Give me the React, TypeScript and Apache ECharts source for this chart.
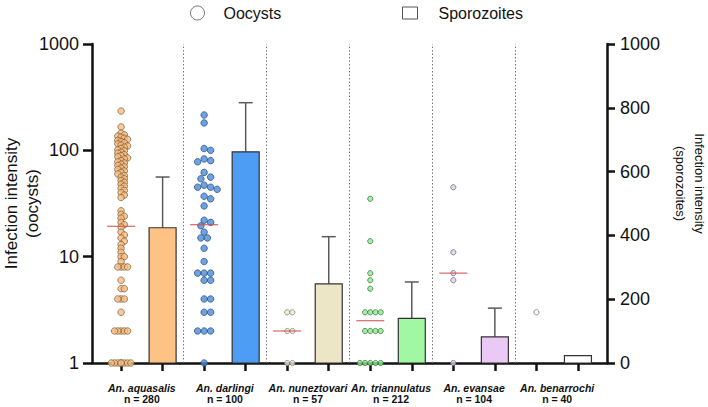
import React, { useEffect, useRef } from "react";
import * as echarts from "echarts";

// ---- Data ----
const species = ["An. aquasalis", "An. darlingi", "An. nuneztovari", "An. triannulatus", "An. evansae", "An. benarrochi"];
const sampleSizes = [280, 100, 57, 212, 104, 40];

const oocystsAquasalis = [234, 166, 145, 140, 136, 133, 130, 127, 124, 121, 118, 115, 112, 110, 107, 104, 101, 99, 96, 94, 91, 89, 87, 85, 83, 80, 78, 76, 74, 72, 70, 68, 66, 64, 62, 60, 58, 56, 54, 52, 50, 48, 46, 44, 42, 40, 38, 36, 27, 25, 24, 23, 21, 20, 19, 17, 16, 15, 14, 13, 12, 11, 10, 10, 9, 8, 8, 8, 8, 6, 5, 5, 4, 4, 4, 3, 2, 2, 2, 2, 2, 0, 0, 0, 0, 0, 0, 0, 0];
const oocystsDarlingi = [215, 181, 104, 100, 83, 80, 78, 62, 56, 54, 47, 45, 45, 43, 37, 35, 30, 22, 21, 19.5, 17, 15, 15, 12, 9, 7, 7, 7, 6, 6, 4, 4, 3, 3, 2, 2, 2, 0];
const oocystsNuneztovari = [3, 3, 2, 2, 0, 0];
const oocystsTriannulatus = [35, 14, 7, 6, 5, 3, 3, 3, 3, 2, 2, 2, 2, 0, 0, 0, 0, 0];
const oocystsEvansae = [45, 11, 7, 6, 0];
const oocystsBenarrochi = [3];
const oocystGroups = [oocystsAquasalis, oocystsDarlingi, oocystsNuneztovari, oocystsTriannulatus, oocystsEvansae, oocystsBenarrochi];

const oocystMedians = [19.3, 20, 2, 2.5, 7, null];
const sporozoiteMeans = [424, 662, 248, 140, 82, 23];
const sporozoiteUpper = [583, 816, 396, 254, 172, null];

const leftTicks = [1, 10, 100, 1000];
const rightTicks = [0, 200, 400, 600, 800, 1000];

// ---- Styles ----
const FONT = "Liberation Sans, Arial, sans-serif";
const pointFill = ["#F7BD80", "#4A8BDA", "#EFEAD6", "#8EEA8E", "#E4CFEC", "#FFFFFF"];
const pointBorder = ["#7A5A38", "#24457A", "#7A7A6A", "#2E6E32", "#6A587A", "#666666"];
const pointSize = [6.5, 6.5, 5.2, 5.2, 5.2, 5.2];
const swarmOverlap = [0.5, 0.98, 0.98, 0.98, 0.98, 0.98];
const swarmHalf = [10, 14, 14, 14, 14, 14];
const barFill = ["#FFC285", "#4D9DF5", "#EDE6C6", "#A2F7A2", "#EAC9F4", "#FFFFFF"];

const X_PX = 41.5; // px per x unit (approx, used only for swarm spacing)
const Y_PX = 106; // px per decade (approx, used only for swarm spacing)

function swarmOffsets(values: number[], diam: number, overlap: number, maxHalf: number): number[] {
  const idx = values.map((v, i) => i).sort((a, b) => values[b] - values[a]);
  const placed: { x: number; y: number }[] = [];
  const res: number[] = new Array(values.length).fill(0);
  const step = diam / 2;
  const thr = diam * overlap;
  for (const i of idx) {
    const y = Math.log10(Math.max(values[i], 1)) * Y_PX;
    let best = 0;
    let bestScore = -1;
    const cands: number[] = [0];
    for (let k = 1; k * step <= maxHalf + 0.01; k++) {
      cands.push(k * step, -k * step);
    }
    for (const c of cands) {
      let minD = Infinity;
      for (const p of placed) {
        const d = Math.hypot(p.x - c, p.y - y);
        if (d < minD) minD = d;
      }
      if (minD >= thr) {
        best = c;
        bestScore = Infinity;
        break;
      }
      if (minD > bestScore + 0.01) {
        bestScore = minD;
        best = c;
      }
    }
    placed.push({ x: best, y });
    res[i] = best;
  }
  return res;
}

export default function App() {
  const ref = useRef<HTMLDivElement>(null);
  useEffect(() => {
    if (!ref.current) return;
    const chart = echarts.init(ref.current, null, { renderer: "svg" });

    const scatterData: any[] = [];
    oocystGroups.forEach((vals, g) => {
      const center = 2 * g + 1;
      const offs = swarmOffsets(vals, pointSize[g], swarmOverlap[g], swarmHalf[g]);
      vals.forEach((v, i) => {
        scatterData.push({
          value: [center + offs[i] / X_PX, Math.max(v, 1)],
          symbolSize: pointSize[g],
          itemStyle: { color: pointFill[g], borderColor: pointBorder[g], borderWidth: 0.9 },
        });
      });
    });

    const medianData: any[] = [];
    oocystMedians.forEach((m, g) => {
      if (m != null) medianData.push([2 * g + 1, m]);
    });

    const barData = sporozoiteMeans.map((v, g) => [2 * g + 2, v, g]);
    const errData: any[] = [];
    sporozoiteUpper.forEach((u, g) => {
      if (u != null) errData.push([2 * g + 2, sporozoiteMeans[g], u]);
    });

    const tickPositions = species.flatMap((_, g) => [2 * g + 1, 2 * g + 2]);
    const labelPositions = species.map((_, g) => 2 * g + 1.5);
    const dividers = species.slice(1).map((_, g) => ({ xAxis: 2 * g + 2.5 }));

    const axisLineStyle = { color: "#111", width: 2.5 };

    const option: any = {
      animation: false,
      textStyle: { fontFamily: FONT },
      legend: [
        {
          data: [{ name: "Oocysts", icon: "circle", itemStyle: { color: "#fff", borderColor: "#555", borderWidth: 1 } }],
          left: 185,
          top: 0,
          itemWidth: 14,
          itemHeight: 14,
          selectedMode: false,
          textStyle: { fontSize: 16, color: "#111", fontFamily: FONT, padding: [0, 0, 0, 14] },
        },
        {
          data: [{ name: "Sporozoites", icon: "rect", itemStyle: { color: "#fff", borderColor: "#555", borderWidth: 1 } }],
          left: 397,
          top: 0,
          itemWidth: 15,
          itemHeight: 12,
          selectedMode: false,
          textStyle: { fontSize: 16, color: "#111", fontFamily: FONT, padding: [0, 0, 0, 16] },
        },
      ],
      grid: { left: 92, right: 101, top: 44, bottom: 44, containLabel: false, outerBoundsMode: "none" },
      xAxis: {
        type: "value",
        min: 0.3,
        max: 12.7,
        splitLine: { show: false },
        axisLine: { onZero: false, lineStyle: axisLineStyle },
        axisTick: { customValues: tickPositions, length: 8, lineStyle: axisLineStyle },
        axisLabel: {
          customValues: labelPositions,
          margin: 19,
          formatter: (val: number) => {
            const g = Math.round((val - 1.5) / 2);
            return "{a|" + species[g] + "}\n{b|n = " + sampleSizes[g] + "}";
          },
          rich: {
            a: { fontFamily: FONT, fontStyle: "italic", fontWeight: "bold", fontSize: 10.5, lineHeight: 11.5, color: "#111" },
            b: { fontFamily: FONT, fontWeight: "bold", fontSize: 10.5, lineHeight: 11.5, color: "#111" },
          },
        },
      },
      yAxis: [
        {
          type: "log",
          logBase: 10,
          min: leftTicks[0],
          max: leftTicks[leftTicks.length - 1],
          position: "left",
          splitLine: { show: false },
          axisLine: { show: true, lineStyle: axisLineStyle },
          axisTick: { show: true, length: 9, lineStyle: axisLineStyle },
          axisLabel: { fontSize: 18, color: "#111", margin: 13, fontFamily: FONT, formatter: (v: number) => String(Math.round(v)) },
          name: "Infection intensity\n(oocysts)",
          nameLocation: "middle",
          nameRotate: 90,
          nameGap: 49,
          nameMoveOverlap: false,
          nameTextStyle: { fontSize: 17, color: "#111", fontFamily: FONT, lineHeight: 21 },
        },
        {
          type: "value",
          min: rightTicks[0],
          max: rightTicks[rightTicks.length - 1],
          interval: 200,
          position: "right",
          splitLine: { show: false },
          axisLine: { show: true, lineStyle: axisLineStyle },
          axisTick: { show: true, length: 8, lineStyle: axisLineStyle },
          axisLabel: { fontSize: 18, color: "#111", margin: 13, fontFamily: FONT, formatter: (v: number) => String(Math.round(v)) },
          name: "Infection intensity\n(sporozoites)",
          nameLocation: "middle",
          nameRotate: -90,
          nameGap: 61,
          nameTextStyle: { fontSize: 13, color: "#111", fontFamily: FONT, lineHeight: 19, padding: [0, 40, 0, 0] },
        },
      ],
      series: [
        {
          name: "Sporozoites",
          type: "custom",
          yAxisIndex: 1,
          z: 2,
          data: barData,
          encode: { x: 0, y: 1 },
          renderItem: (params: any, api: any) => {
            const x = api.value(0);
            const v = api.value(1);
            const g = api.value(2);
            const p0 = api.coord([x, 0]);
            const p1 = api.coord([x, v]);
            const w = 27;
            return {
              type: "rect",
              shape: { x: p0[0] - w / 2, y: p1[1], width: w, height: p0[1] - p1[1] },
              style: { fill: barFill[g], stroke: "#333", lineWidth: 1.2 },
            };
          },
        },
        {
          name: "errors",
          type: "custom",
          yAxisIndex: 1,
          z: 1,
          data: errData,
          encode: { x: 0, y: [1, 2] },
          renderItem: (params: any, api: any) => {
            const x = api.value(0);
            const pm = api.coord([x, api.value(1)]);
            const pu = api.coord([x, api.value(2)]);
            const cap = 7;
            const st = { stroke: "#5a5a5a", lineWidth: 1.5 };
            return {
              type: "group",
              children: [
                { type: "line", shape: { x1: pm[0], y1: pm[1], x2: pu[0], y2: pu[1] }, style: st },
                { type: "line", shape: { x1: pu[0] - cap, y1: pu[1], x2: pu[0] + cap, y2: pu[1] }, style: st },
              ],
            };
          },
        },
        {
          name: "Oocysts",
          type: "scatter",
          yAxisIndex: 0,
          z: 3,
          clip: false,
          symbol: "circle",
          data: scatterData,
          markLine: {
            silent: true,
            symbol: ["none", "none"],
            label: { show: false },
            lineStyle: { type: [1.5, 2], color: "#777", width: 1 },
            data: dividers,
          },
        },
        {
          name: "median",
          type: "scatter",
          yAxisIndex: 0,
          z: 4,
          symbol: "rect",
          symbolSize: [28, 1.3],
          itemStyle: { color: "#D0504E" },
          data: medianData,
        },
      ],
    };
    chart.setOption(option);
    return () => chart.dispose();
  }, []);
  return <div ref={ref} style={{ width: 708, height: 407, position: "absolute", left: 0, top: 0, background: "#fff" }} />;
}
